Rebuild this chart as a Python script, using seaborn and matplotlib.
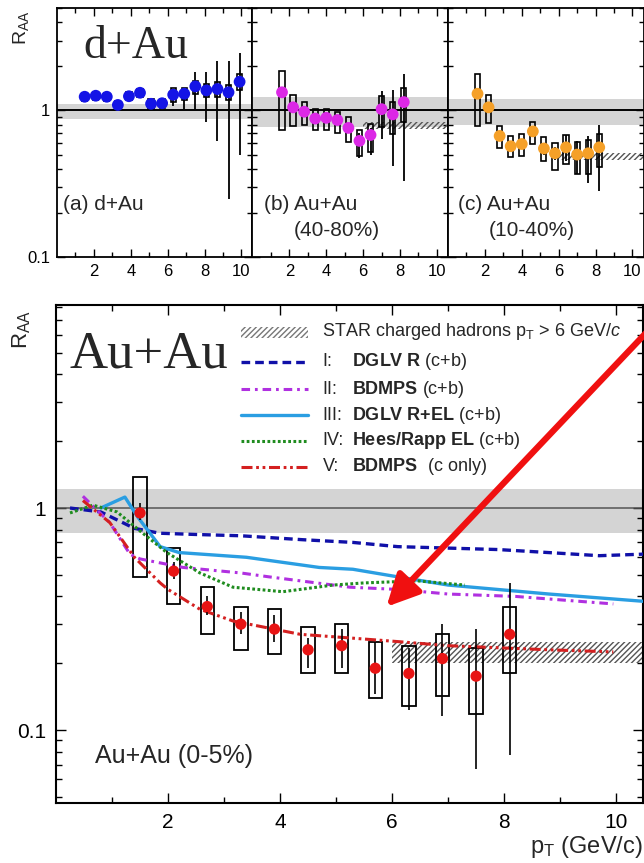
import matplotlib
matplotlib.use("Agg")
import matplotlib.pyplot as plt
import seaborn as sns
from matplotlib.ticker import FixedLocator, LogLocator, NullFormatter, FixedFormatter
from matplotlib.patches import Rectangle

# ---------------- data ----------------
# (a) d+Au
pt_a = [1.5, 2.1, 2.7, 3.3, 3.9, 4.5, 5.1, 5.7, 6.3, 6.9, 7.5, 8.1, 8.7, 9.3, 9.9]
raa_a = [1.24, 1.26, 1.24, 1.09, 1.25, 1.32, 1.11, 1.12, 1.28, 1.30, 1.46, 1.37, 1.40, 1.33, 1.57]
stat_lo_a = [1.19, 1.21, 1.19, 1.04, 1.19, 1.25, 1.04, 1.04, 1.08, 1.03, 1.03, 0.83, 0.62, 0.25, 0.50]
stat_hi_a = [1.29, 1.31, 1.29, 1.14, 1.31, 1.39, 1.18, 1.20, 1.40, 1.38, 1.84, 1.84, 2.19, 2.19, 2.47]
sys_lo_a = [1.16, 1.18, 1.16, 1.02, 1.17, 1.23, 1.03, 1.04, 1.14, 1.17, 1.30, 1.23, 1.23, 1.17, 1.37]
sys_hi_a = [1.32, 1.34, 1.32, 1.16, 1.33, 1.41, 1.19, 1.20, 1.43, 1.43, 1.60, 1.52, 1.56, 1.48, 1.76]

# (b) Au+Au 40-80%
pt_b = [1.6, 2.2, 2.8, 3.4, 4.0, 4.6, 5.2, 5.8, 6.4, 7.0, 7.6, 8.2]
raa_b = [1.33, 1.05, 0.98, 0.88, 0.89, 0.86, 0.76, 0.62, 0.68, 1.02, 0.94, 1.14]
sys_lo_b = [0.73, 0.78, 0.80, 0.73, 0.74, 0.70, 0.61, 0.49, 0.52, 0.77, 0.69, 0.83]
sys_hi_b = [1.85, 1.28, 1.15, 1.03, 1.03, 0.98, 0.90, 0.74, 0.81, 1.25, 1.14, 1.43]
stat_lo_b = [1.25, 0.99, 0.93, 0.83, 0.84, 0.81, 0.70, 0.47, 0.50, 0.64, 0.42, 0.33]
stat_hi_b = [1.41, 1.11, 1.03, 0.93, 0.94, 0.91, 0.82, 0.70, 0.76, 1.35, 1.38, 1.78]

# (c) Au+Au 10-40%
pt_c = [1.6, 2.2, 2.8, 3.4, 4.0, 4.6, 5.2, 5.8, 6.4, 7.0, 7.6, 8.2]
raa_c = [1.30, 1.05, 0.67, 0.57, 0.59, 0.72, 0.55, 0.51, 0.56, 0.50, 0.51, 0.56]
sys_lo_c = [0.78, 0.82, 0.55, 0.48, 0.49, 0.59, 0.45, 0.39, 0.43, 0.37, 0.37, 0.41]
sys_hi_c = [1.76, 1.28, 0.78, 0.67, 0.69, 0.84, 0.66, 0.60, 0.68, 0.61, 0.63, 0.69]
stat_lo_c = [1.22, 0.99, 0.62, 0.53, 0.55, 0.67, 0.50, 0.46, 0.45, 0.37, 0.32, 0.28]
stat_hi_c = [1.38, 1.11, 0.72, 0.61, 0.63, 0.77, 0.60, 0.56, 0.68, 0.62, 0.67, 0.80]

# bands (normalisation) and STAR hatched bands for top panels
band_a = (0.88, 1.11)
band_b = (0.77, 1.23)
band_c = (0.80, 1.19)
star_x = [6.0, 10.6]
star_b = (0.75, 0.83)
star_c = (0.46, 0.51)

# Au+Au 0-5%
pt_d = [1.5, 2.1, 2.7, 3.3, 3.9, 4.5, 5.1, 5.7, 6.3, 6.9, 7.5, 8.1]
raa_d = [0.95, 0.52, 0.36, 0.30, 0.285, 0.23, 0.24, 0.19, 0.18, 0.21, 0.175, 0.27]
sys_lo_d = [0.49, 0.37, 0.27, 0.23, 0.22, 0.18, 0.18, 0.14, 0.128, 0.143, 0.118, 0.18]
sys_hi_d = [1.38, 0.66, 0.44, 0.36, 0.35, 0.29, 0.30, 0.25, 0.24, 0.27, 0.235, 0.36]
stat_lo_d = [0.88, 0.48, 0.33, 0.27, 0.25, 0.19, 0.19, 0.145, 0.123, 0.116, 0.067, 0.077]
stat_hi_d = [1.05, 0.57, 0.40, 0.34, 0.33, 0.26, 0.285, 0.25, 0.235, 0.30, 0.285, 0.46]
band_d = (0.77, 1.22)
star_d_x = [6.0, 10.5]
star_d = (0.20, 0.25)

# theory curves
c1_x = [0.25, 0.8, 1.4, 1.85, 2.5, 3.3, 4.4, 5.3, 6.1, 7.0, 7.9, 8.8, 9.7, 10.5]
c1_y = [1.0, 0.96, 0.81, 0.77, 0.76, 0.75, 0.72, 0.70, 0.67, 0.66, 0.65, 0.63, 0.61, 0.62]
c2_x = [0.48, 0.96, 1.32, 1.5, 2.27, 3.3, 3.8, 5.25, 6.1, 7.0, 8.2, 9.95]
c2_y = [1.13, 0.86, 0.62, 0.59, 0.54, 0.51, 0.49, 0.44, 0.43, 0.41, 0.40, 0.37]
c3_x = [0.8, 1.23, 1.46, 1.86, 2.2, 3.4, 4.7, 5.3, 6.1, 7.0, 8.8, 10.5]
c3_y = [1.0, 1.12, 0.91, 0.67, 0.63, 0.60, 0.54, 0.53, 0.49, 0.45, 0.41, 0.38]
c4_x = [0.25, 0.66, 1.09, 1.55, 1.98, 2.57, 3.16, 4.05, 4.95, 5.5, 6.45, 7.3]
c4_y = [0.95, 1.03, 0.96, 0.77, 0.63, 0.51, 0.44, 0.42, 0.45, 0.46, 0.47, 0.45]
c5_x = [0.48, 0.96, 1.4, 1.86, 2.0, 2.57, 3.16, 4.36, 5.25, 6.14, 7.0, 8.8, 9.95]
c5_y = [1.08, 0.86, 0.60, 0.46, 0.43, 0.35, 0.31, 0.27, 0.26, 0.25, 0.24, 0.23, 0.225]

legend_labels = [
    ("", r"STAR charged hadrons p$_\mathrm{T}$ > 6 GeV/$c$"),
    ("I:", r"$\mathbf{DGLV\ R}$ (c+b)"),
    ("II:", r"$\mathbf{BDMPS}$ (c+b)"),
    ("III:", r"$\mathbf{DGLV\ R{+}EL}$ (c+b)"),
    ("IV:", r"$\mathbf{Hees/Rapp\ EL}$ (c+b)"),
    ("V:", r"$\mathbf{BDMPS}$  (c only)"),
]

# ---------------- style ----------------
sns.set_style("ticks")
plt.rcParams["font.family"] = ["Liberation Sans", "DejaVu Sans"]
plt.rcParams["mathtext.fontset"] = "custom"
plt.rcParams["mathtext.rm"] = "Liberation Sans"
plt.rcParams["mathtext.it"] = "Liberation Sans:italic"
plt.rcParams["mathtext.bf"] = "Liberation Sans:bold"
plt.rcParams["hatch.linewidth"] = 1.0
plt.rcParams["hatch.color"] = "#555555"

W, H = 644, 863
fig = plt.figure(figsize=(W / 100, H / 100), dpi=100)

GREY = "#d4d4d4"
HATCH = "#555555"

def style_axes(ax, xmax, ylo, yhi, labsize, xlabels=True, ylabels=True, lw=1.3):
    ax.set_yscale("log")
    ax.set_xlim(0, xmax)
    ax.set_ylim(ylo, yhi)
    ax.xaxis.set_major_locator(FixedLocator([2, 4, 6, 8, 10]))
    ax.xaxis.set_minor_locator(FixedLocator([1, 3, 5, 7, 9]))
    ax.yaxis.set_major_locator(FixedLocator([0.1, 1]))
    ax.yaxis.set_minor_locator(LogLocator(base=10, subs=[2, 3, 4, 5, 6, 7, 8, 9], numticks=20))
    ax.yaxis.set_minor_formatter(NullFormatter())
    if ylabels:
        ax.yaxis.set_major_formatter(FixedFormatter(["0.1", "1"]))
    else:
        ax.yaxis.set_major_formatter(NullFormatter())
    if not xlabels:
        ax.xaxis.set_major_formatter(NullFormatter())
    else:
        ax.xaxis.set_major_formatter(FixedFormatter(["2", "4", "6", "8", "10"]))
    ax.tick_params(which="both", direction="in", top=True, right=True, width=1.0, labelsize=labsize,
                   colors="black")
    ax.tick_params(which="major", length=6, pad=6)
    ax.tick_params(which="minor", length=3.5)
    for s in ax.spines.values():
        s.set_linewidth(lw)
        s.set_color("black")
    ax.set_facecolor("white")


def draw_panel(ax, pt, raa, slo, shi, elo, ehi, color, band, star, bw, ms):
    xl = ax.get_xlim()
    ax.fill_between(list(xl), [band[0]] * 2, [band[1]] * 2, color=GREY, lw=0, zorder=0)
    ax.axhline(1.0, color="black", lw=1.4, zorder=1)
    if star is not None:
        ax.fill_between(star_x, [star[0]] * 2, [star[1]] * 2, facecolor="none", edgecolor=HATCH,
                        hatch="//////", lw=0, zorder=1)
    hts = [h - l for h, l in zip(shi, slo)]
    ax.bar(pt, hts, bottom=slo, width=bw, fill=False, edgecolor="black", lw=1.2, zorder=2)
    ax.vlines(pt, elo, ehi, color="black", lw=1.3, zorder=3)
    sns.scatterplot(x=pt, y=raa, color=color, s=ms, edgecolor="none", linewidth=0, zorder=4, ax=ax,
                    legend=False)


# ---------------- top panels ----------------
left0 = 57 / W
pw = (643.5 - 57) / 3 / W
bot = 1 - 257 / H
ht = (257 - 8) / H
colors_top = ["#1414e6", "#dc28e6", "#f5a028"]
axes_top = []
for i in range(3):
    ax = fig.add_axes([left0 + i * pw, bot, pw, ht])
    style_axes(ax, 10.6, 0.1, 5.0, 12, ylabels=(i == 0), lw=1.3)
    ax.tick_params(which="major", pad=5)
    axes_top.append(ax)

draw_panel(axes_top[0], pt_a, raa_a, sys_lo_a, sys_hi_a, stat_lo_a, stat_hi_a, colors_top[0],
           band_a, None, 0.28, 72)
draw_panel(axes_top[1], pt_b, raa_b, sys_lo_b, sys_hi_b, stat_lo_b, stat_hi_b, colors_top[1],
           band_b, star_b, 0.28, 72)
draw_panel(axes_top[2], pt_c, raa_c, sys_lo_c, sys_hi_c, stat_lo_c, stat_hi_c, colors_top[2],
           band_c, star_c, 0.28, 72)

axes_top[0].text(0.03, 0.21, "(a) d+Au", transform=axes_top[0].transAxes, fontsize=15,
                 ha="left", va="center")
axes_top[1].text(0.06, 0.21, "(b) Au+Au", transform=axes_top[1].transAxes, fontsize=15,
                 ha="left", va="center")
axes_top[1].text(0.21, 0.105, "(40-80%)", transform=axes_top[1].transAxes, fontsize=15,
                 ha="left", va="center")
axes_top[2].text(0.05, 0.21, "(c) Au+Au", transform=axes_top[2].transAxes, fontsize=15,
                 ha="left", va="center")
axes_top[2].text(0.21, 0.105, "(10-40%)", transform=axes_top[2].transAxes, fontsize=15,
                 ha="left", va="center")

fig.text(21 / W, 1 - 28 / H, r"R$_\mathrm{AA}$", rotation=90, fontsize=14, ha="center", va="center")
fig.text(83 / W, 1 - 58 / H, "d+Au", family="Liberation Serif", fontsize=33, ha="left",
         va="baseline")

# ---------------- bottom panel ----------------
axb = fig.add_axes([56 / W, 1 - 803 / H, 587 / W, (803 - 305) / H])
style_axes(axb, 10.48, 0.047, 8.2, 15, lw=1.5)
axb.tick_params(which="major", length=7, pad=7)
axb.tick_params(which="minor", length=4)

xl = axb.get_xlim()
axb.fill_between(list(xl), [band_d[0]] * 2, [band_d[1]] * 2, color=GREY, lw=0, zorder=0)
axb.axhline(1.0, color="#555555", lw=1.1, zorder=1)
axb.fill_between(star_d_x, [star_d[0]] * 2, [star_d[1]] * 2, facecolor="none", edgecolor=HATCH,
                 hatch="//////", lw=0, zorder=1)

hts = [h - l for h, l in zip(sys_hi_d, sys_lo_d)]
axb.bar(pt_d, hts, bottom=sys_lo_d, width=0.24, fill=False, edgecolor="black", lw=1.3, zorder=2)

curves = [
    (c1_x, c1_y, "#1010a8", 2.4, (2.6, 1.5)),
    (c2_x, c2_y, "#b030e0", 2.2, (2.8, 1.6, 0.9, 1.6)),
    (c3_x, c3_y, "#2a9ee2", 2.4, None),
    (c4_x, c4_y, "#1f8c1f", 2.2, (0.9, 0.8)),
    (c5_x, c5_y, "#d42020", 2.2, (3.6, 1.2, 0.9, 1.2, 0.9, 1.2)),
]
for cx, cy, col, lw, dash in curves:
    sns.lineplot(x=cx, y=cy, sort=False, estimator=None, color=col, lw=lw, ax=axb, zorder=3,
                 legend=False)
    ln = axb.lines[-1]
    if dash is not None:
        ln.set_dashes(dash)
        ln.set_dash_capstyle("butt")

axb.vlines(pt_d, stat_lo_d, stat_hi_d, color="black", lw=1.2, zorder=4)
sns.scatterplot(x=pt_d, y=raa_d, color="#e81414", s=66, edgecolor="none", linewidth=0, zorder=5,
                ax=axb, legend=False)

# legend (manual)
lx0, lx1 = 0.316, 0.429
rows_y = [0.946, 0.886, 0.831, 0.779, 0.727, 0.675]
axb.add_patch(Rectangle((lx0, 0.934), lx1 - lx0, 0.022, transform=axb.transAxes,
                        facecolor="white", edgecolor="#777777", hatch="//////", lw=0, zorder=6))
for (cx, cy, col, lw, dash), yy in zip(curves, rows_y[1:]):
    ln, = axb.plot([lx0, lx1], [yy, yy], transform=axb.transAxes, color=col, lw=lw, zorder=6)
    if dash is not None:
        ln.set_dashes(dash)
        ln.set_dash_capstyle("butt")
for (num, lab), yy in zip(legend_labels, rows_y):
    if num == "":
        axb.text(0.454, yy, lab, transform=axb.transAxes, fontsize=13, ha="left", va="center",
                 zorder=7)
    else:
        axb.text(0.454, yy, num, transform=axb.transAxes, fontsize=13, ha="left", va="center",
                 zorder=7)
        axb.text(0.505, yy, lab, transform=axb.transAxes, fontsize=13, ha="left", va="center",
                 zorder=7)

axb.text(95 / W, 1 - 756 / H, "Au+Au (0-5%)", transform=fig.transFigure, fontsize=18,
         ha="left", va="center")

axb.annotate("", xy=(0.563, 0.394), xycoords="axes fraction", xytext=(1.01, 0.95),
             textcoords="axes fraction", annotation_clip=False, zorder=8,
             arrowprops=dict(arrowstyle="-|>,head_length=0.6,head_width=0.3", color="#f01010",
                             lw=4.5, mutation_scale=32, shrinkA=0, shrinkB=0))

fig.text(22 / W, 1 - 330 / H, r"R$_\mathrm{AA}$", rotation=90, fontsize=16, ha="center", va="center")
fig.text(70 / W, 1 - 368 / H, "Au+Au", family="Liberation Serif", fontsize=38, ha="left",
         va="baseline")
fig.text(643 / W, 1 - 853 / H, r"p$_\mathrm{T}$ (GeV/c)", fontsize=17, ha="right", va="baseline")

fig.savefig("out.png", dpi=100, facecolor="white")
